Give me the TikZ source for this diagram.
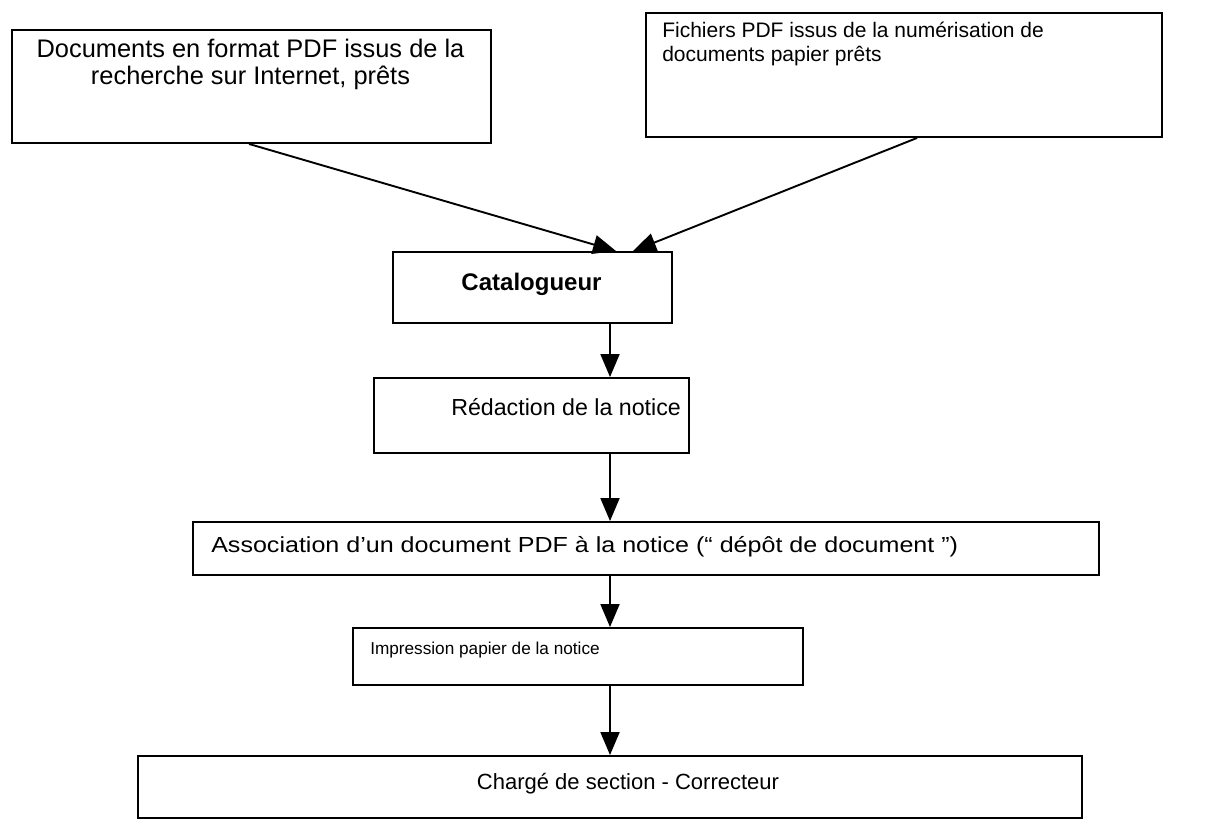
\documentclass[tikz,border=0pt]{standalone}
\usepackage{fontspec}
\setmainfont{Liberation Sans}
\newfontfamily\widefont[FakeStretch=1.15]{Liberation Sans}
\usetikzlibrary{arrows.meta,calc}
\begin{document}
\begin{tikzpicture}[x=1pt,y=-1pt,
  box/.style={draw=black,line width=1.9pt,minimum width=#1,inner sep=0pt},
  txt/.style={inner sep=0pt,font=\fontsize{21}{26}\selectfont},
  arr/.style={line width=1.9pt,-{Triangle[length=23pt,width=19pt]}}]
\useasboundingbox (0,0) rectangle (1230,822);
\coordinate (ax) at (610,0);
% boxes
\node[box=479pt,minimum height=113pt] (b1) at (251.5,86.5) {};
\node[box=516pt,minimum height=124pt] (b2) at (904,75) {};
\node[box=279pt,minimum height=71pt] (cat) at (532.5,287.5) {};
\node[box=315pt,minimum height=75pt] (red) at (531.5,415.5) {};
\node[box=906pt,minimum height=53pt] (ass) at (646,548.5) {};
\node[box=450pt,minimum height=57pt] (imp) at (578,656.5) {};
\node[box=944pt,minimum height=62pt] (chg) at (610,787) {};
% texts
\node[txt,anchor=north,align=center,font=\fontsize{25.4}{26.5}\selectfont] (t1) at ($(b1.north)+(-1,10)$) {Documents en format PDF issus de la\\recherche sur Internet, prêts};
\node[txt,anchor=north west,align=left,font=\fontsize{21}{24}\selectfont] (t2) at ($(b2.north west)+(17,10)$) {Fichiers PDF issus de la numérisation de\\documents papier prêts};
\node[txt,font=\bfseries\fontsize{24}{26}\selectfont] (tcat) at ($(cat.center)+(-1,-3)$) {Catalogueur};
\node[txt,anchor=west,font=\fontsize{23.2}{26}\selectfont] (tred) at ($(red.west)+(78,-8)$) {Rédaction de la notice};
\node[txt,anchor=west,font=\widefont\fontsize{21.8}{24}\selectfont] (tass) at ($(ass.west)+(19,-2)$) {Association d’un document PDF à la notice (“ dépôt de document ”)};
\node[txt,anchor=west,font=\fontsize{17.2}{20}\selectfont] (timp) at ($(imp.west)+(18,-6)$) {Impression papier de la notice};
\node[txt,font=\fontsize{22}{26}\selectfont] (tchg) at ($(chg.center)+(18,-3)$) {Chargé de section - Correcteur};
% connectors
\draw[arr] ($(b1.south west)+(238,0)$) -- ($(cat.north west)+(224,0)$);
\draw[arr] ($(b2.south west)+(272,0)$) -- ($(cat.north west)+(241,0)$);
\draw[arr] (cat.south -| ax) -- (red.north -| ax);
\draw[arr] (red.south -| ax) -- (ass.north -| ax);
\draw[arr] (ass.south -| ax) -- (imp.north -| ax);
\draw[arr] (imp.south -| ax) -- (chg.north -| ax);
\end{tikzpicture}
\end{document}
